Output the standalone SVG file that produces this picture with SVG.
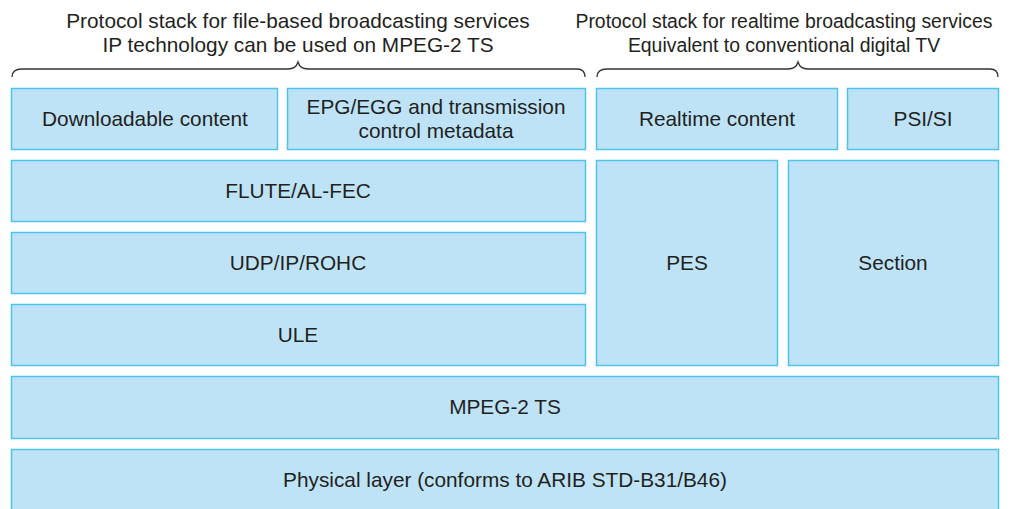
<svg xmlns="http://www.w3.org/2000/svg" width="1027" height="509" viewBox="0 0 1027 509">
<style>
.b{fill:#bee3f7;stroke:#4cc4ec;stroke-width:1.5}
.t{font-family:"Liberation Sans",Arial,sans-serif;font-size:20.8px;fill:#231f20;text-anchor:middle}
.s{font-size:19.4px}
.br{fill:none;stroke:#333;stroke-width:1.3}
</style>
<rect width="1027" height="509" fill="#fff"/>
<g id="titles">
<text class="t" x="298" y="28">Protocol stack for file-based broadcasting services</text>
<text class="t" x="298" y="52">IP technology can be used on MPEG-2 TS</text>
<text class="t s" x="784" y="28">Protocol stack for realtime broadcasting services</text>
<text class="t s" x="784" y="52">Equivalent to conventional digital TV</text>
</g>
<g id="braces">
<path class="br" d="M12,77 Q12,69 22,69 L288,69 Q296,69 298,62 Q300,69 308,69 L577,69 Q585,69 585,77"/>
<path class="br" d="M597,77 Q597,69 607,69 L788,69 Q796,69 798,62 Q800,69 808,69 L990,69 Q998,69 998,77"/>
</g>
<g id="downloadable"><rect class="b" x="11.5" y="88.5" width="266" height="61"/><text class="t" x="145" y="126">Downloadable content</text></g>
<g id="epg"><rect class="b" x="287.5" y="88.5" width="298" height="61"/><text class="t" x="436" y="114">EPG/EGG and transmission</text><text class="t" x="436" y="138">control metadata</text></g>
<g id="realtime"><rect class="b" x="596.5" y="88.5" width="241" height="61"/><text class="t" x="717" y="126">Realtime content</text></g>
<g id="psisi"><rect class="b" x="847.5" y="88.5" width="151" height="61"/><text class="t" x="923" y="126">PSI/SI</text></g>
<g id="flute"><rect class="b" x="11.5" y="160.5" width="574" height="61"/><text class="t" x="298" y="198">FLUTE/AL-FEC</text></g>
<g id="udp"><rect class="b" x="11.5" y="232.5" width="574" height="61"/><text class="t" x="298" y="270">UDP/IP/ROHC</text></g>
<g id="ule"><rect class="b" x="11.5" y="304.5" width="574" height="61"/><text class="t" x="298" y="342">ULE</text></g>
<g id="pes"><rect class="b" x="596.5" y="160.5" width="181" height="205"/><text class="t" x="687" y="270">PES</text></g>
<g id="section"><rect class="b" x="788.5" y="160.5" width="210" height="205"/><text class="t" x="893" y="270">Section</text></g>
<g id="mpeg"><rect class="b" x="11.5" y="376.5" width="987" height="62"/><text class="t" x="505" y="414">MPEG-2 TS</text></g>
<g id="physical"><rect class="b" x="11.5" y="449.5" width="987" height="70"/><text class="t" x="505" y="487">Physical layer (conforms to ARIB STD-B31/B46)</text></g>
<g id="connectors"/>
</svg>
